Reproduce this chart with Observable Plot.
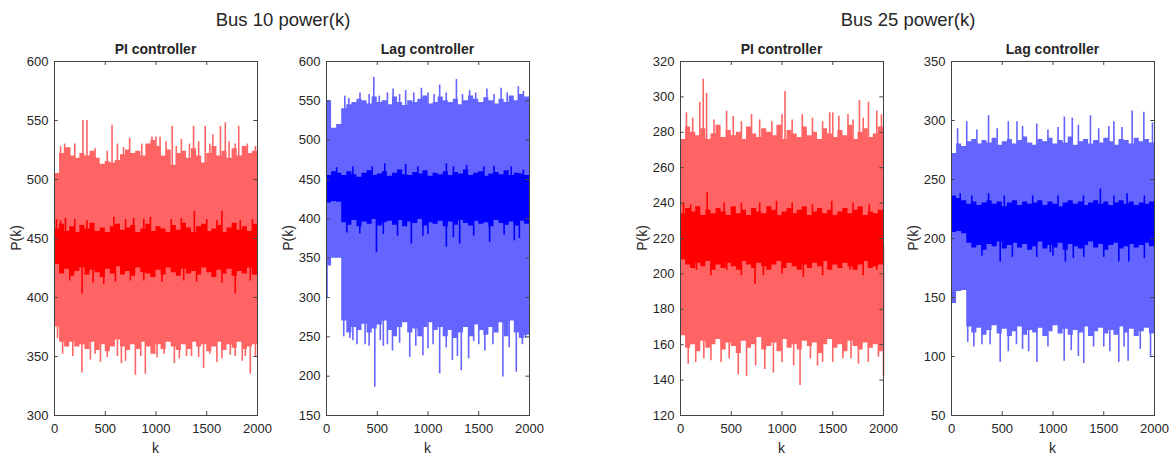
<!DOCTYPE html>
<html><head><meta charset="utf-8">
<script src="https://cdn.jsdelivr.net/npm/d3@7"></script>
<script src="https://cdn.jsdelivr.net/npm/@observablehq/plot@0.6"></script>
<style>
body{margin:0;background:#fff;font-family:"Liberation Sans",Arial,sans-serif;}
#wrap{position:relative;width:1172px;height:455px;overflow:hidden;background:#fff;}
#wrap svg{position:absolute;top:0;}
.t{position:absolute;color:#262626;white-space:nowrap;transform:translate(-50%,-50%);line-height:1;}
</style></head><body><div id="wrap"></div>
<script>
// ---- data ----
const kGrid = d3.range(0, 2001, 50);            // k positions of envelope samples
const xTicks = [0, 500, 1000, 1500, 2000];
const figTitles = ["Bus 10 power(k)", "Bus 25 power(k)"];
const panelTitles = ["PI controller", "Lag controller", "PI controller", "Lag controller"];
const yDomains = [[300, 600], [150, 600], [120, 320], [50, 350]];
const yTicks1 = [300, 350, 400, 450, 500, 550, 600];
const yTicks2 = [150, 200, 250, 300, 350, 400, 450, 500, 550, 600];
const yTicks3 = [120, 140, 160, 180, 200, 220, 240, 260, 280, 300, 320];
const yTicks4 = [50, 100, 150, 200, 250, 300, 350];

// Bus 10, PI controller
const b10piLightHi = [505,522,527,520,518,522,520,524,518,513,515,514,516,521,525,522,524,520,530,533,528,520,525,512,522,524,518,526,520,514,522,528,520,524,518,526,520,528,522,524,520];
const b10piLightLo = [375,362,358,362,358,360,356,362,355,360,354,358,364,358,355,360,356,362,358,352,360,356,362,358,355,360,356,362,358,360,354,358,362,355,360,357,362,356,358,360,352];
const b10piLightSpikes = [[270,336],[280,550],[320,550],[354,347],[453,345],[567,546],[659,344],[740,535],[797,334],[895,335],[960,536],[1000,536],[1010,349],[1040,536],[1160,545],[1181,344],[1250,534],[1370,545],[1469,340],[1485,545],[1560,538],[1600,345],[1635,545],[1683,548],[1732,351],[1815,545],[1929,335],[100,530],[200,530],[1880,350],[30,365],[1300,350],
  [60,528],[150,527],[400,526],[520,524],[620,530],[680,527],[860,530],[1100,532],[1200,528],[1330,530],[1420,532],[1530,530],[1720,532],[1780,530],[1900,530],[1980,528],
  [80,352],[180,350],[400,352],[520,349],[620,350],[700,346],[850,350],[1080,352],[1230,348],[1350,350],[1420,349],[1530,352],[1650,348],[1780,350],[1850,346],[1980,350]];
const b10piDarkHi = [458,462,456,460,455,461,458,463,456,459,455,460,462,457,459,461,455,458,462,456,460,458,455,461,457,463,459,455,460,462,456,458,461,455,459,463,457,460,456,462,458];
const b10piDarkLo = [428,420,424,418,422,425,419,423,421,417,424,420,426,419,422,418,425,421,420,417,423,419,425,421,418,424,420,422,419,425,421,417,423,420,424,418,422,420,425,419,422];
const b10piDarkSpikes = [[20,466],[108,467],[272,403],[485,411],[584,468],[748,414],[780,467],[945,468],[1059,413],[1273,414],[1378,473],[1650,473],[1781,403],[1929,414],[1500,466],[1830,465],[380,412],[1150,466],
  [60,465],[200,466],[320,465],[700,466],[880,466],[1250,467],[1600,465],[1950,466],[150,414],[600,413],[880,414],[1400,413],[1650,412]];

// Bus 10, Lag controller
const b10lagLightHi = [550,515,520,540,545,548,552,550,546,555,548,550,545,555,548,544,550,548,552,556,546,548,555,550,548,552,545,550,556,552,548,554,550,546,552,548,556,550,558,555,540];
const b10lagLightLo = [340,350,350,270,255,262,258,266,255,260,265,270,258,250,262,268,255,260,250,262,268,258,262,250,258,248,255,262,250,265,258,252,262,255,268,250,270,255,248,252,275];
const b10lagLightSpikes = [[5,300],[466,580],[476,186],[656,565],[650,232],[780,563],[820,224],[935,566],[950,226],[1115,570],[1115,203],[1280,577],[1240,220],[1328,207],[1410,563],[1400,222],[1580,565],[1720,566],[1738,199],[1870,205],[1890,568],[330,560],[300,240],[380,240],[560,238],[1000,235],[1500,240],[1960,248],[230,248],[180,556],[1000,560],
  [220,553],[420,558],[520,556],[600,560],[720,558],[860,560],[1060,558],[1180,560],[1340,558],[1470,560],[1650,558],[1780,560],[1940,562],
  [170,250],[260,245],[420,238],[530,245],[600,240],[720,242],[880,238],[1050,240],[1180,236],[1290,225],[1450,244],[1560,232],[1640,240],[1800,236],[1930,240]];
const b10lagDarkHi = [455,460,458,455,460,456,453,458,461,455,457,460,454,458,462,456,455,459,457,461,454,458,456,460,455,459,457,462,455,458,460,454,457,459,456,461,455,458,457,455,456];
const b10lagDarkLo = [420,422,421,395,392,398,390,396,393,399,391,395,397,392,398,390,396,394,399,391,395,393,397,390,396,392,398,394,391,397,393,395,390,398,394,392,396,391,397,393,400];
const b10lagDarkSpikes = [[492,357],[836,368],[1181,364],[1312,368],[1607,370],[1900,375],[328,381],[700,378],[574,470],[1181,470],[780,469],[1380,468],[1650,467],[1940,462],[1000,380],[1450,378],
  [100,465],[260,466],[450,466],[900,466],[1250,466],[1550,466],[1820,466],[200,382],[560,380],[950,378],[1250,376],[1750,379],[1850,372]];

// Bus 25, PI controller
const b25piLightHi = [276,283,280,278,282,276,279,284,277,281,278,280,276,283,279,277,282,280,278,284,276,281,279,277,283,278,280,276,282,279,277,281,278,284,276,280,282,277,279,283,270];
const b25piLightLo = [165,158,160,156,162,158,160,163,157,161,159,155,162,158,160,164,157,159,161,156,163,158,160,157,162,159,161,155,160,163,158,160,156,162,159,157,161,158,160,156,162];
const b25piLightSpikes = [[190,297],[224,310],[257,302],[59,291],[454,292],[1030,303],[1000,290],[1200,290],[1470,291],[1500,291],[1763,298],[1852,297],[1934,292],[76,149],[569,143],[651,142],[915,144],[830,146],[1115,148],[1178,137],[1753,149],[2000,142],[1400,150],[300,151],[1600,152],[700,290],[1650,290],
  [120,288],[330,287],[520,289],[600,286],[780,287],[900,286],[1100,287],[1300,288],[1400,286],[1560,289],[1700,287],[1800,288],[1980,290],
  [150,150],[230,152],[400,150],[480,152],[740,148],[1000,150],[1280,152],[1350,148],[1500,150],[1680,152],[1850,150],[1950,153]];
const b25piDarkHi = [234,237,235,238,233,236,234,237,235,233,238,234,236,233,237,235,234,238,236,233,235,237,234,236,238,233,235,237,234,236,233,235,237,234,236,238,233,235,234,236,234];
const b25piDarkLo = [208,205,203,206,204,207,202,205,203,206,204,202,207,205,203,206,204,202,205,207,203,206,204,202,205,203,206,204,207,202,205,203,206,204,202,205,207,203,204,205,206];
const b25piDarkSpikes = [[30,240],[263,246],[430,240],[946,241],[1490,241],[1860,239],[734,194],[1210,198],[817,199],[157,202],[455,202],[1671,202],[1934,202],
  [100,239],[600,240],[780,240],[1100,240],[1300,239],[1700,240],[300,199],[600,199],[1000,200],[1400,199],[1800,199]];

// Bus 25, Lag controller
const b25lagLightHi = [272,280,278,282,284,280,283,281,285,279,282,284,280,283,286,281,279,284,282,285,280,283,281,286,279,282,284,280,283,281,285,282,279,284,283,280,285,282,284,281,278];
const b25lagLightLo = [145,155,156,125,120,124,118,122,126,119,123,117,121,125,118,122,120,124,117,121,126,119,123,118,122,120,125,117,121,124,119,122,118,125,120,123,117,121,124,119,118];
const b25lagLightSpikes = [[365,304],[560,299],[645,299],[1112,303],[1190,302],[1369,304],[1600,299],[1780,308],[1895,307],[150,299],[840,297],[480,95],[842,95],[1110,96],[1303,94],[1648,95],[1740,96],[1961,99],[300,110],[700,106],[1250,100],[1500,108],[160,112],
  [60,293],[250,292],[450,293],[700,295],[950,292],[1050,294],[1250,296],[1450,293],[1550,295],[1680,294],[1980,298],
  [220,108],[380,110],[560,104],[640,110],[760,104],[950,108],[1180,105],[1400,108],[1560,104],[1700,108],[1860,106]];
const b25lagDarkHi = [236,234,232,229,231,228,230,232,229,231,227,230,232,228,231,229,230,232,228,231,229,227,230,232,229,231,228,230,232,229,231,228,230,232,229,231,228,230,229,231,230];
const b25lagDarkLo = [205,206,204,196,192,194,190,195,193,197,191,194,196,192,195,190,193,197,191,194,192,196,190,195,193,191,194,197,192,195,190,194,196,191,193,195,192,194,196,193,195];
const b25lagDarkSpikes = [[86,238],[365,238],[1467,242],[1730,238],[200,236],[480,180],[1122,180],[1303,184],[1648,180],[1747,180],[300,185],[840,184],[974,188],
  [520,236],[800,236],[1050,236],[1300,236],[1600,236],[1900,236],[600,184],[1000,185],[1200,183],[1500,184],[1900,183]];

// ---- drawing ----
const wrap = document.getElementById("wrap");
const ink = "#262626";
const FONT = '"Liberation Sans", Arial, sans-serif';

function label(text, x, y, css) {
  const d = document.createElement("div");
  d.className = "t";
  d.textContent = text;
  d.style.left = x + "px"; d.style.top = y + "px";
  Object.assign(d.style, css || {});
  wrap.appendChild(d);
}

function panel(left, yDomain, yTicks, light, dark, lightColor, darkColor, title) {
  const W = 203, ml = 48, mr = 12;
  const rows = s => kGrid.map((k, i) => ({k, hi: s.hi[i], lo: s.lo[i]}));
  const spk = s => s.spikes.map(([k, v]) => { const i = Math.round(k / 50); return {k, v, b: (s.hi[i] + s.lo[i]) / 2}; });
  const [y0, y1] = yDomain, sp = y1 - y0;
  const chart = Plot.plot({
    width: W + ml + mr, height: 455,
    marginLeft: ml, marginRight: mr, marginTop: 61, marginBottom: 40,
    x: {domain: [0, 2000]},
    y: {domain: yDomain},
    style: {fontFamily: FONT, fontSize: "13px", color: ink, background: "transparent", overflow: "visible"},
    marks: [
      Plot.areaY(rows(light), {x: "k", y1: "lo", y2: "hi", curve: "step-after", fill: lightColor}),
      Plot.ruleX(spk(light), {x: "k", y1: "b", y2: "v", stroke: lightColor, strokeWidth: 1.6}),
      Plot.areaY(rows(dark), {x: "k", y1: "lo", y2: "hi", curve: "step-after", fill: darkColor}),
      Plot.ruleX(spk(dark), {x: "k", y1: "b", y2: "v", stroke: darkColor, strokeWidth: 1.6}),
      Plot.frame({stroke: "#444"}),
      Plot.ruleX(xTicks, {y1: y0, y2: y0 + sp * 0.011, stroke: "#444"}),
      Plot.ruleX(xTicks, {y1: y1, y2: y1 - sp * 0.011, stroke: "#444"}),
      Plot.ruleY(yTicks, {x1: 0, x2: 2000 * 0.018, stroke: "#444"}),
      Plot.ruleY(yTicks, {x1: 2000, x2: 2000 * 0.982, stroke: "#444"}),
      Plot.axisX(xTicks, {tickSize: 0, tickPadding: 8, label: null, fill: ink, tickFormat: d => String(d)}),
      Plot.axisY(yTicks, {tickSize: 0, tickPadding: 6, label: null, fill: ink, tickFormat: d => String(d)})
    ]
  });
  chart.style.left = (left - ml) + "px";
  wrap.appendChild(chart);
  const cx = left + W / 2;
  label(title, cx, 49, {fontWeight: "bold", fontSize: "14px"});
  label("k", cx, 448, {fontSize: "14px"});
  label("P(k)", left - 38, 238, {fontSize: "14px", transform: "translate(-50%,-50%) rotate(-90deg)"});
}

const LR = "#ff6464", DR = "#ff0000", LB = "#6464ff", DB = "#0000ff";
panel(54, yDomains[0], yTicks1,
  {hi: b10piLightHi, lo: b10piLightLo, spikes: b10piLightSpikes},
  {hi: b10piDarkHi, lo: b10piDarkLo, spikes: b10piDarkSpikes}, LR, DR, panelTitles[0]);
panel(326, yDomains[1], yTicks2,
  {hi: b10lagLightHi, lo: b10lagLightLo, spikes: b10lagLightSpikes},
  {hi: b10lagDarkHi, lo: b10lagDarkLo, spikes: b10lagDarkSpikes}, LB, DB, panelTitles[1]);
panel(680, yDomains[2], yTicks3,
  {hi: b25piLightHi, lo: b25piLightLo, spikes: b25piLightSpikes},
  {hi: b25piDarkHi, lo: b25piDarkLo, spikes: b25piDarkSpikes}, LR, DR, panelTitles[2]);
panel(951, yDomains[3], yTicks4,
  {hi: b25lagLightHi, lo: b25lagLightLo, spikes: b25lagLightSpikes},
  {hi: b25lagDarkHi, lo: b25lagDarkLo, spikes: b25lagDarkSpikes}, LB, DB, panelTitles[3]);

label(figTitles[0], 283, 20, {fontSize: "18.5px"});
label(figTitles[1], 908, 20, {fontSize: "18.5px"});
</script></body></html>
